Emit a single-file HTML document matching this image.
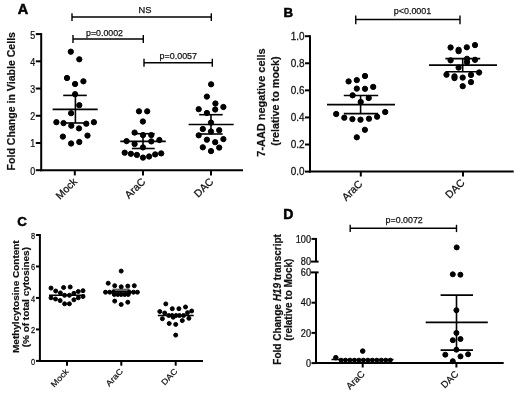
<!DOCTYPE html>
<html><head><meta charset="utf-8"><style>
html,body{margin:0;padding:0;background:#fff;width:520px;height:395px;overflow:hidden}
svg{display:block;will-change:transform}
text{font-family:"Liberation Sans", sans-serif;fill:#111;stroke:none}
text.n{stroke:#111;stroke-width:0.25px}
text.b{stroke:#111;stroke-width:0.2px}
text.L{stroke:#000;stroke-width:0.5px;fill:#000}
</style></head><body>
<svg width="520" height="395" viewBox="0 0 520 395">
<rect width="520" height="395" fill="#fff"/>
<g stroke="#000" fill="#000" stroke-linecap="butt">
<text transform="translate(17.8 13.7)" font-size="14.5" text-anchor="start" font-weight="bold" class="L">A</text>
<line x1="41.2" y1="33.1" x2="41.2" y2="171.2" stroke-width="2.0"/>
<line x1="40.2" y1="170.2" x2="243" y2="170.2" stroke-width="2.0"/>
<line x1="35.8" y1="170.2" x2="41.2" y2="170.2" stroke-width="2.0"/>
<text transform="translate(35.2 174.7) scale(0.85 1)" font-size="10.5" text-anchor="end" class="n">0</text>
<line x1="35.8" y1="142.98" x2="41.2" y2="142.98" stroke-width="2.0"/>
<text transform="translate(35.2 147.48) scale(0.85 1)" font-size="10.5" text-anchor="end" class="n">1</text>
<line x1="35.8" y1="115.76" x2="41.2" y2="115.76" stroke-width="2.0"/>
<text transform="translate(35.2 120.26) scale(0.85 1)" font-size="10.5" text-anchor="end" class="n">2</text>
<line x1="35.8" y1="88.54" x2="41.2" y2="88.54" stroke-width="2.0"/>
<text transform="translate(35.2 93.04) scale(0.85 1)" font-size="10.5" text-anchor="end" class="n">3</text>
<line x1="35.8" y1="61.32" x2="41.2" y2="61.32" stroke-width="2.0"/>
<text transform="translate(35.2 65.82) scale(0.85 1)" font-size="10.5" text-anchor="end" class="n">4</text>
<line x1="35.8" y1="34.1" x2="41.2" y2="34.1" stroke-width="2.0"/>
<text transform="translate(35.2 38.6) scale(0.85 1)" font-size="10.5" text-anchor="end" class="n">5</text>
<line x1="74.8" y1="170.2" x2="74.8" y2="175.4" stroke-width="2.0"/>
<line x1="143" y1="170.2" x2="143" y2="175.4" stroke-width="2.0"/>
<line x1="211" y1="170.2" x2="211" y2="175.4" stroke-width="2.0"/>
<text transform="translate(14.8 170.4) rotate(-90)" font-size="10.6" text-anchor="start" font-weight="bold" class="b" textLength="138.4" lengthAdjust="spacingAndGlyphs">Fold Change in Viable Cells</text>
<text transform="translate(77.8 182.3) rotate(-45)" font-size="10.5" text-anchor="end" class="n">Mock</text>
<text transform="translate(146 182.3) rotate(-45)" font-size="10.5" text-anchor="end" class="n">AraC</text>
<text transform="translate(214 182.3) rotate(-45)" font-size="10.5" text-anchor="end" class="n">DAC</text>
<line x1="72" y1="17" x2="211.3" y2="17" stroke-width="1.4"/>
<line x1="72" y1="13.3" x2="72" y2="21" stroke-width="1.4"/>
<line x1="211.3" y1="13.3" x2="211.3" y2="21" stroke-width="1.4"/>
<text transform="translate(144.9 13.2)" font-size="9.3" text-anchor="middle" class="n">NS</text>
<line x1="73" y1="39" x2="143.3" y2="39" stroke-width="1.4"/>
<line x1="73" y1="35" x2="73" y2="43" stroke-width="1.4"/>
<line x1="143.3" y1="35" x2="143.3" y2="43" stroke-width="1.4"/>
<text transform="translate(104.5 35.8)" font-size="9.8" text-anchor="middle" class="n" textLength="37" lengthAdjust="spacingAndGlyphs">p=0.0002</text>
<line x1="144" y1="62.8" x2="212.3" y2="62.8" stroke-width="1.4"/>
<line x1="144" y1="58.7" x2="144" y2="66.8" stroke-width="1.4"/>
<line x1="212.3" y1="58.7" x2="212.3" y2="66.8" stroke-width="1.4"/>
<text transform="translate(178.3 58.6)" font-size="9.8" text-anchor="middle" class="n" textLength="37.4" lengthAdjust="spacingAndGlyphs">p=0.0057</text>
<circle cx="70.8" cy="51.7" r="2.65"/>
<circle cx="79.3" cy="59.3" r="2.65"/>
<circle cx="67" cy="78" r="2.65"/>
<circle cx="83.4" cy="81.3" r="2.65"/>
<circle cx="75.1" cy="84" r="2.65"/>
<circle cx="75.1" cy="94.2" r="2.65"/>
<circle cx="79.3" cy="105.2" r="2.65"/>
<circle cx="71.1" cy="113.2" r="2.65"/>
<circle cx="56.4" cy="122.2" r="2.65"/>
<circle cx="63.5" cy="123.1" r="2.65"/>
<circle cx="71.3" cy="125.7" r="2.65"/>
<circle cx="79" cy="128.4" r="2.65"/>
<circle cx="86.3" cy="123.7" r="2.65"/>
<circle cx="93.9" cy="122.2" r="2.65"/>
<circle cx="62.9" cy="136.6" r="2.65"/>
<circle cx="87.5" cy="135.6" r="2.65"/>
<circle cx="71.1" cy="143.5" r="2.65"/>
<circle cx="79.3" cy="142" r="2.65"/>
<line x1="63.2" y1="95.4" x2="86.8" y2="95.4" stroke-width="1.6"/>
<line x1="63.2" y1="123" x2="86.8" y2="123" stroke-width="1.6"/>
<line x1="52.6" y1="109.4" x2="97.7" y2="109.4" stroke-width="1.6"/>
<line x1="75.4" y1="95.4" x2="75.4" y2="123" stroke-width="1.6"/>
<circle cx="139" cy="111.3" r="2.65"/>
<circle cx="147.2" cy="111.3" r="2.65"/>
<circle cx="142.9" cy="121.5" r="2.65"/>
<circle cx="134.6" cy="132.6" r="2.65"/>
<circle cx="143" cy="135.1" r="2.65"/>
<circle cx="151.3" cy="135.1" r="2.65"/>
<circle cx="126.6" cy="141.1" r="2.65"/>
<circle cx="134.6" cy="144" r="2.65"/>
<circle cx="151.3" cy="141.4" r="2.65"/>
<circle cx="159.4" cy="140" r="2.65"/>
<circle cx="143" cy="147.4" r="2.65"/>
<circle cx="124.7" cy="152.7" r="2.65"/>
<circle cx="130.9" cy="153.8" r="2.65"/>
<circle cx="136.9" cy="154.9" r="2.65"/>
<circle cx="143" cy="157.6" r="2.65"/>
<circle cx="149.1" cy="156.5" r="2.65"/>
<circle cx="155.2" cy="154.4" r="2.65"/>
<circle cx="161.2" cy="153.4" r="2.65"/>
<line x1="131.9" y1="133.7" x2="154.7" y2="133.7" stroke-width="1.6"/>
<line x1="131.9" y1="148.5" x2="154.7" y2="148.5" stroke-width="1.6"/>
<line x1="120.3" y1="141.4" x2="165.8" y2="141.4" stroke-width="1.6"/>
<line x1="143" y1="133.7" x2="143" y2="148.5" stroke-width="1.6"/>
<circle cx="211.1" cy="84.3" r="2.65"/>
<circle cx="206.9" cy="96.6" r="2.65"/>
<circle cx="215.4" cy="103.5" r="2.65"/>
<circle cx="223.4" cy="107" r="2.65"/>
<circle cx="198.7" cy="109.2" r="2.65"/>
<circle cx="215.2" cy="109.5" r="2.65"/>
<circle cx="206.9" cy="113" r="2.65"/>
<circle cx="211" cy="122.6" r="2.65"/>
<circle cx="202.8" cy="129" r="2.65"/>
<circle cx="219.2" cy="130.2" r="2.65"/>
<circle cx="211" cy="131.5" r="2.65"/>
<circle cx="198.7" cy="135.3" r="2.65"/>
<circle cx="206.9" cy="139.7" r="2.65"/>
<circle cx="223.4" cy="139.1" r="2.65"/>
<circle cx="215.2" cy="142.2" r="2.65"/>
<circle cx="202.8" cy="147.3" r="2.65"/>
<circle cx="219.2" cy="147.6" r="2.65"/>
<circle cx="211" cy="151.1" r="2.65"/>
<line x1="199.2" y1="114.7" x2="222.7" y2="114.7" stroke-width="1.6"/>
<line x1="199.2" y1="134" x2="222.7" y2="134" stroke-width="1.6"/>
<line x1="188.6" y1="124.5" x2="233.7" y2="124.5" stroke-width="1.6"/>
<line x1="211" y1="114.7" x2="211" y2="134" stroke-width="1.6"/>
<text transform="translate(283.6 16.8)" font-size="13.31" text-anchor="start" font-weight="bold" class="L">B</text>
<line x1="310" y1="35.2" x2="310" y2="172.6" stroke-width="2.0"/>
<line x1="309" y1="171.6" x2="513.7" y2="171.6" stroke-width="2.0"/>
<line x1="305" y1="171.6" x2="310" y2="171.6" stroke-width="2.0"/>
<text transform="translate(304.6 175.3) scale(0.95 1)" font-size="10.5" text-anchor="end" class="n">0.0</text>
<line x1="305" y1="144.52" x2="310" y2="144.52" stroke-width="2.0"/>
<text transform="translate(304.6 148.22) scale(0.95 1)" font-size="10.5" text-anchor="end" class="n">0.2</text>
<line x1="305" y1="117.44" x2="310" y2="117.44" stroke-width="2.0"/>
<text transform="translate(304.6 121.14) scale(0.95 1)" font-size="10.5" text-anchor="end" class="n">0.4</text>
<line x1="305" y1="90.36" x2="310" y2="90.36" stroke-width="2.0"/>
<text transform="translate(304.6 94.06) scale(0.95 1)" font-size="10.5" text-anchor="end" class="n">0.6</text>
<line x1="305" y1="63.28" x2="310" y2="63.28" stroke-width="2.0"/>
<text transform="translate(304.6 66.98) scale(0.95 1)" font-size="10.5" text-anchor="end" class="n">0.8</text>
<line x1="305" y1="36.2" x2="310" y2="36.2" stroke-width="2.0"/>
<text transform="translate(304.6 39.9) scale(0.95 1)" font-size="10.5" text-anchor="end" class="n">1.0</text>
<line x1="360.8" y1="171.6" x2="360.8" y2="176.5" stroke-width="2.0"/>
<line x1="463" y1="171.6" x2="463" y2="176.5" stroke-width="2.0"/>
<text transform="translate(265.4 156.7) rotate(-90)" font-size="10.9" text-anchor="start" font-weight="bold" class="b" textLength="108.4" lengthAdjust="spacingAndGlyphs">7-AAD negative cells</text>
<text transform="translate(278.7 145.8) rotate(-90)" font-size="10.9" text-anchor="start" font-weight="bold" class="b" textLength="89.4" lengthAdjust="spacingAndGlyphs">(relative to mock)</text>
<text transform="translate(363.1 184.6) rotate(-45)" font-size="10.5" text-anchor="end" class="n">AraC</text>
<text transform="translate(465.3 183.4) rotate(-45)" font-size="10.5" text-anchor="end" class="n">DAC</text>
<line x1="355.75" y1="19.5" x2="460" y2="19.5" stroke-width="1.4"/>
<line x1="355.75" y1="15.5" x2="355.75" y2="24.2" stroke-width="1.4"/>
<line x1="460" y1="15.5" x2="460" y2="24.2" stroke-width="1.4"/>
<text transform="translate(412.5 14.4)" font-size="9.8" text-anchor="middle" class="n" textLength="37.5" lengthAdjust="spacingAndGlyphs">p&lt;0.0001</text>
<circle cx="365" cy="76" r="2.65"/>
<circle cx="348.6" cy="81.4" r="2.65"/>
<circle cx="356.8" cy="80.1" r="2.65"/>
<circle cx="356.8" cy="88.6" r="2.65"/>
<circle cx="365" cy="88.8" r="2.65"/>
<circle cx="373.2" cy="86.9" r="2.65"/>
<circle cx="352.6" cy="95.3" r="2.65"/>
<circle cx="368.7" cy="98" r="2.65"/>
<circle cx="360.7" cy="102" r="2.65"/>
<circle cx="336.2" cy="114" r="2.65"/>
<circle cx="344.3" cy="117.7" r="2.65"/>
<circle cx="352.4" cy="119.1" r="2.65"/>
<circle cx="360.5" cy="119.7" r="2.65"/>
<circle cx="369" cy="118.7" r="2.65"/>
<circle cx="377.1" cy="116.7" r="2.65"/>
<circle cx="385.2" cy="112" r="2.65"/>
<circle cx="364.9" cy="129.8" r="2.65"/>
<circle cx="356.8" cy="137.3" r="2.65"/>
<line x1="343.8" y1="95.5" x2="378.2" y2="95.5" stroke-width="1.6"/>
<line x1="343.8" y1="113.6" x2="378.2" y2="113.6" stroke-width="1.6"/>
<line x1="327" y1="104.6" x2="395" y2="104.6" stroke-width="1.6"/>
<line x1="360.6" y1="95.5" x2="360.6" y2="113.6" stroke-width="1.6"/>
<circle cx="450.6" cy="47.5" r="2.65"/>
<circle cx="458.6" cy="49.8" r="2.65"/>
<circle cx="458.6" cy="51.2" r="2.65"/>
<circle cx="466.8" cy="47.3" r="2.65"/>
<circle cx="475" cy="45.1" r="2.65"/>
<circle cx="450.6" cy="60.3" r="2.65"/>
<circle cx="467" cy="58.8" r="2.65"/>
<circle cx="467" cy="62.2" r="2.65"/>
<circle cx="475" cy="59.8" r="2.65"/>
<circle cx="458.6" cy="67.6" r="2.65"/>
<circle cx="446.5" cy="74.7" r="2.65"/>
<circle cx="454.5" cy="76.3" r="2.65"/>
<circle cx="454.5" cy="78.1" r="2.65"/>
<circle cx="462.7" cy="77.6" r="2.65"/>
<circle cx="471" cy="74.9" r="2.65"/>
<circle cx="479.1" cy="72.5" r="2.65"/>
<circle cx="471" cy="82.1" r="2.65"/>
<circle cx="462.7" cy="86.2" r="2.65"/>
<line x1="445.4" y1="58.6" x2="480.2" y2="58.6" stroke-width="1.6"/>
<line x1="445.4" y1="71.8" x2="480.2" y2="71.8" stroke-width="1.6"/>
<line x1="429" y1="65.1" x2="497" y2="65.1" stroke-width="1.6"/>
<line x1="462.7" y1="58.6" x2="462.7" y2="71.8" stroke-width="1.6"/>
<text transform="translate(17.2 226.4)" font-size="13.31" text-anchor="start" font-weight="bold" class="L">C</text>
<line x1="39.9" y1="233.98" x2="39.9" y2="361.9" stroke-width="2.0"/>
<line x1="38.9" y1="360.9" x2="203" y2="360.9" stroke-width="2.0"/>
<line x1="36" y1="360.9" x2="39.9" y2="360.9" stroke-width="2.0"/>
<text transform="translate(35 364.7) scale(0.78 1)" font-size="9.5" text-anchor="end" class="n">0</text>
<line x1="36" y1="329.42" x2="39.9" y2="329.42" stroke-width="2.0"/>
<text transform="translate(35 333.22) scale(0.78 1)" font-size="9.5" text-anchor="end" class="n">2</text>
<line x1="36" y1="297.94" x2="39.9" y2="297.94" stroke-width="2.0"/>
<text transform="translate(35 301.74) scale(0.78 1)" font-size="9.5" text-anchor="end" class="n">4</text>
<line x1="36" y1="266.46" x2="39.9" y2="266.46" stroke-width="2.0"/>
<text transform="translate(35 270.26) scale(0.78 1)" font-size="9.5" text-anchor="end" class="n">6</text>
<line x1="36" y1="234.98" x2="39.9" y2="234.98" stroke-width="2.0"/>
<text transform="translate(35 238.78) scale(0.78 1)" font-size="9.5" text-anchor="end" class="n">8</text>
<line x1="67" y1="360.9" x2="67" y2="365.7" stroke-width="2.0"/>
<line x1="121.3" y1="360.9" x2="121.3" y2="365.7" stroke-width="2.0"/>
<line x1="175.7" y1="360.9" x2="175.7" y2="365.7" stroke-width="2.0"/>
<text transform="translate(19.1 353) scale(0.88 1) rotate(-90)" font-size="10" text-anchor="start" font-weight="bold" class="b" textLength="112.7" lengthAdjust="spacingAndGlyphs">Methylcytosine Content</text>
<text transform="translate(28.6 347.3) scale(0.88 1) rotate(-90)" font-size="10" text-anchor="start" font-weight="bold" class="b" textLength="100.3" lengthAdjust="spacingAndGlyphs">(% of total cytosines)</text>
<text transform="translate(69.2 371.8) rotate(-47) scale(0.95 0.85)" font-size="9.6" text-anchor="end" class="n">Mock</text>
<text transform="translate(123.5 371.8) rotate(-47) scale(0.95 0.85)" font-size="9.6" text-anchor="end" class="n">AraC</text>
<text transform="translate(177.9 371.8) rotate(-47) scale(0.95 0.85)" font-size="9.6" text-anchor="end" class="n">DAC</text>
<circle cx="51" cy="288.1" r="2.0"/>
<circle cx="63.6" cy="287.5" r="2.0"/>
<circle cx="70.2" cy="287" r="2.0"/>
<circle cx="55.7" cy="291" r="2.0"/>
<circle cx="60.4" cy="292.9" r="2.0"/>
<circle cx="78.3" cy="291.5" r="2.0"/>
<circle cx="83" cy="290.7" r="2.0"/>
<circle cx="73.9" cy="293.3" r="2.0"/>
<circle cx="64.6" cy="295.3" r="2.0"/>
<circle cx="69.4" cy="295.3" r="2.0"/>
<circle cx="51" cy="297.8" r="2.0"/>
<circle cx="55.5" cy="299" r="2.0"/>
<circle cx="60.1" cy="300.6" r="2.0"/>
<circle cx="64.6" cy="303.8" r="2.0"/>
<circle cx="69.4" cy="303.8" r="2.0"/>
<circle cx="73.9" cy="299.8" r="2.0"/>
<circle cx="78.3" cy="297.8" r="2.0"/>
<circle cx="83" cy="296.5" r="2.0"/>
<line x1="49" y1="295.2" x2="85" y2="295.2" stroke-width="1.6"/>
<rect x="112.4" y="288.6" width="17.3" height="5" fill="#666" stroke="none"/>
<circle cx="121.2" cy="271.1" r="2.0"/>
<circle cx="108.2" cy="283.2" r="2.0"/>
<circle cx="114.7" cy="285.7" r="2.0"/>
<circle cx="121.2" cy="286.8" r="2.0"/>
<circle cx="127.8" cy="286.1" r="2.0"/>
<circle cx="134.3" cy="285.7" r="2.0"/>
<circle cx="105.5" cy="292.2" r="2.0"/>
<circle cx="109.7" cy="292.2" r="2.0"/>
<circle cx="113.5" cy="292.2" r="2.0"/>
<circle cx="129.3" cy="292.2" r="2.0"/>
<circle cx="133.5" cy="292.2" r="2.0"/>
<circle cx="137.4" cy="292.2" r="2.0"/>
<circle cx="114.3" cy="294.5" r="2.0"/>
<circle cx="117.8" cy="294.5" r="2.0"/>
<circle cx="121.2" cy="294.5" r="2.0"/>
<circle cx="124.7" cy="294.5" r="2.0"/>
<circle cx="128.2" cy="294.5" r="2.0"/>
<circle cx="114.7" cy="301.1" r="2.0"/>
<circle cx="121.2" cy="304.5" r="2.0"/>
<circle cx="127.8" cy="302.2" r="2.0"/>
<line x1="105" y1="291.8" x2="138" y2="291.8" stroke-width="1.4"/>
<circle cx="165.8" cy="303.9" r="2.0"/>
<circle cx="172.3" cy="308.7" r="2.0"/>
<circle cx="178.9" cy="308.7" r="2.0"/>
<circle cx="185.5" cy="307" r="2.0"/>
<circle cx="159.8" cy="311.5" r="2.0"/>
<circle cx="191.7" cy="311" r="2.0"/>
<circle cx="164.7" cy="313" r="2.0"/>
<circle cx="187.5" cy="312.7" r="2.0"/>
<circle cx="168.7" cy="315.5" r="2.0"/>
<circle cx="172.1" cy="315.5" r="2.0"/>
<circle cx="176.1" cy="315.5" r="2.0"/>
<circle cx="179.5" cy="315.5" r="2.0"/>
<circle cx="183.5" cy="315.5" r="2.0"/>
<circle cx="162.4" cy="318.7" r="2.0"/>
<circle cx="173.2" cy="317.2" r="2.0"/>
<circle cx="182.3" cy="320.6" r="2.0"/>
<circle cx="188.9" cy="318.3" r="2.0"/>
<circle cx="169.2" cy="323.5" r="2.0"/>
<circle cx="175.7" cy="324.4" r="2.0"/>
<circle cx="175.7" cy="335.1" r="2.0"/>
<line x1="157.8" y1="315.5" x2="193.7" y2="315.5" stroke-width="1.6"/>
<text transform="translate(283.3 219.4)" font-size="14" text-anchor="start" font-weight="bold" class="L">D</text>
<line x1="316" y1="237.9" x2="316" y2="261.6" stroke-width="2.0"/>
<line x1="311.5" y1="238.9" x2="316" y2="238.9" stroke-width="2.0"/>
<line x1="311" y1="261.6" x2="318.6" y2="261.6" stroke-width="2.0"/>
<text transform="translate(311 242.6) scale(0.9 1)" font-size="10.2" text-anchor="end" class="n">100</text>
<text transform="translate(311 265.1) scale(0.9 1)" font-size="10.2" text-anchor="end" class="n">80</text>
<line x1="316" y1="272.4" x2="316" y2="364.1" stroke-width="2.0"/>
<line x1="311" y1="272.4" x2="318.6" y2="272.4" stroke-width="2.0"/>
<text transform="translate(311 276.1) scale(0.9 1)" font-size="10.2" text-anchor="end" class="n">60</text>
<line x1="311.5" y1="302.7" x2="316" y2="302.7" stroke-width="2.0"/>
<text transform="translate(311 306.4) scale(0.9 1)" font-size="10.2" text-anchor="end" class="n">40</text>
<line x1="311.5" y1="332.9" x2="316" y2="332.9" stroke-width="2.0"/>
<text transform="translate(311 336.6) scale(0.9 1)" font-size="10.2" text-anchor="end" class="n">20</text>
<line x1="311.5" y1="363.1" x2="316" y2="363.1" stroke-width="2.0"/>
<text transform="translate(311 366.8) scale(0.9 1)" font-size="10.2" text-anchor="end" class="n">0</text>
<line x1="315" y1="363.1" x2="503.7" y2="363.1" stroke-width="2.0"/>
<line x1="362.7" y1="363.1" x2="362.7" y2="367.5" stroke-width="2.0"/>
<line x1="456.4" y1="363.1" x2="456.4" y2="367.5" stroke-width="2.0"/>
<text transform="translate(280.6 364.7) rotate(-90)" font-size="10" text-anchor="start" font-weight="bold" class="b" textLength="130.6" lengthAdjust="spacingAndGlyphs">Fold Change <tspan font-style="italic">H19</tspan> transcript</text>
<text transform="translate(292.2 340.8) rotate(-90)" font-size="10" text-anchor="start" font-weight="bold" class="b" textLength="82.2" lengthAdjust="spacingAndGlyphs">(relative to Mock)</text>
<text transform="translate(365.3 374.6) rotate(-45)" font-size="9.5" text-anchor="end" class="n">AraC</text>
<text transform="translate(459.0 374.6) rotate(-45)" font-size="9.5" text-anchor="end" class="n">DAC</text>
<line x1="350.2" y1="228.3" x2="456.5" y2="228.3" stroke-width="1.4"/>
<line x1="350.2" y1="224.8" x2="350.2" y2="232.1" stroke-width="1.4"/>
<line x1="456.5" y1="224.8" x2="456.5" y2="232.1" stroke-width="1.4"/>
<text transform="translate(404.2 222.8)" font-size="9.8" text-anchor="middle" class="n" textLength="37.2" lengthAdjust="spacingAndGlyphs">p=0.0072</text>
<circle cx="362.7" cy="351.1" r="2.3"/>
<circle cx="335.8" cy="357.7" r="2.3"/>
<circle cx="341.0" cy="360.2" r="2.0"/>
<circle cx="345.48" cy="360.2" r="2.0"/>
<circle cx="349.96" cy="360.2" r="2.0"/>
<circle cx="354.44" cy="360.2" r="2.0"/>
<circle cx="358.92" cy="360.2" r="2.0"/>
<circle cx="363.4" cy="360.2" r="2.0"/>
<circle cx="367.88" cy="360.2" r="2.0"/>
<circle cx="372.36" cy="360.2" r="2.0"/>
<circle cx="376.84" cy="360.2" r="2.0"/>
<circle cx="381.32" cy="360.2" r="2.0"/>
<circle cx="385.8" cy="360.2" r="2.0"/>
<circle cx="390.28" cy="360.2" r="2.0"/>
<line x1="331.5" y1="359.4" x2="393.5" y2="359.4" stroke-width="1.5"/>
<circle cx="456.7" cy="247.4" r="2.5"/>
<circle cx="452.8" cy="274.3" r="2.5"/>
<circle cx="460.4" cy="274.7" r="2.5"/>
<circle cx="456.4" cy="310.2" r="2.5"/>
<circle cx="456.4" cy="332.9" r="2.5"/>
<circle cx="452.8" cy="340.2" r="2.5"/>
<circle cx="460.5" cy="339" r="2.5"/>
<circle cx="456.4" cy="349.7" r="2.5"/>
<circle cx="445.3" cy="354.7" r="2.5"/>
<circle cx="460.5" cy="356.4" r="2.5"/>
<circle cx="468.1" cy="354.3" r="2.5"/>
<circle cx="452.8" cy="361.2" r="2.5"/>
<line x1="440.6" y1="295.1" x2="473" y2="295.1" stroke-width="1.6"/>
<line x1="440.6" y1="350.1" x2="473" y2="350.1" stroke-width="1.6"/>
<line x1="425.7" y1="322.4" x2="487.8" y2="322.4" stroke-width="1.6"/>
<line x1="456.5" y1="295.1" x2="456.5" y2="350.1" stroke-width="1.6"/>
</g>
</svg>
</body></html>
